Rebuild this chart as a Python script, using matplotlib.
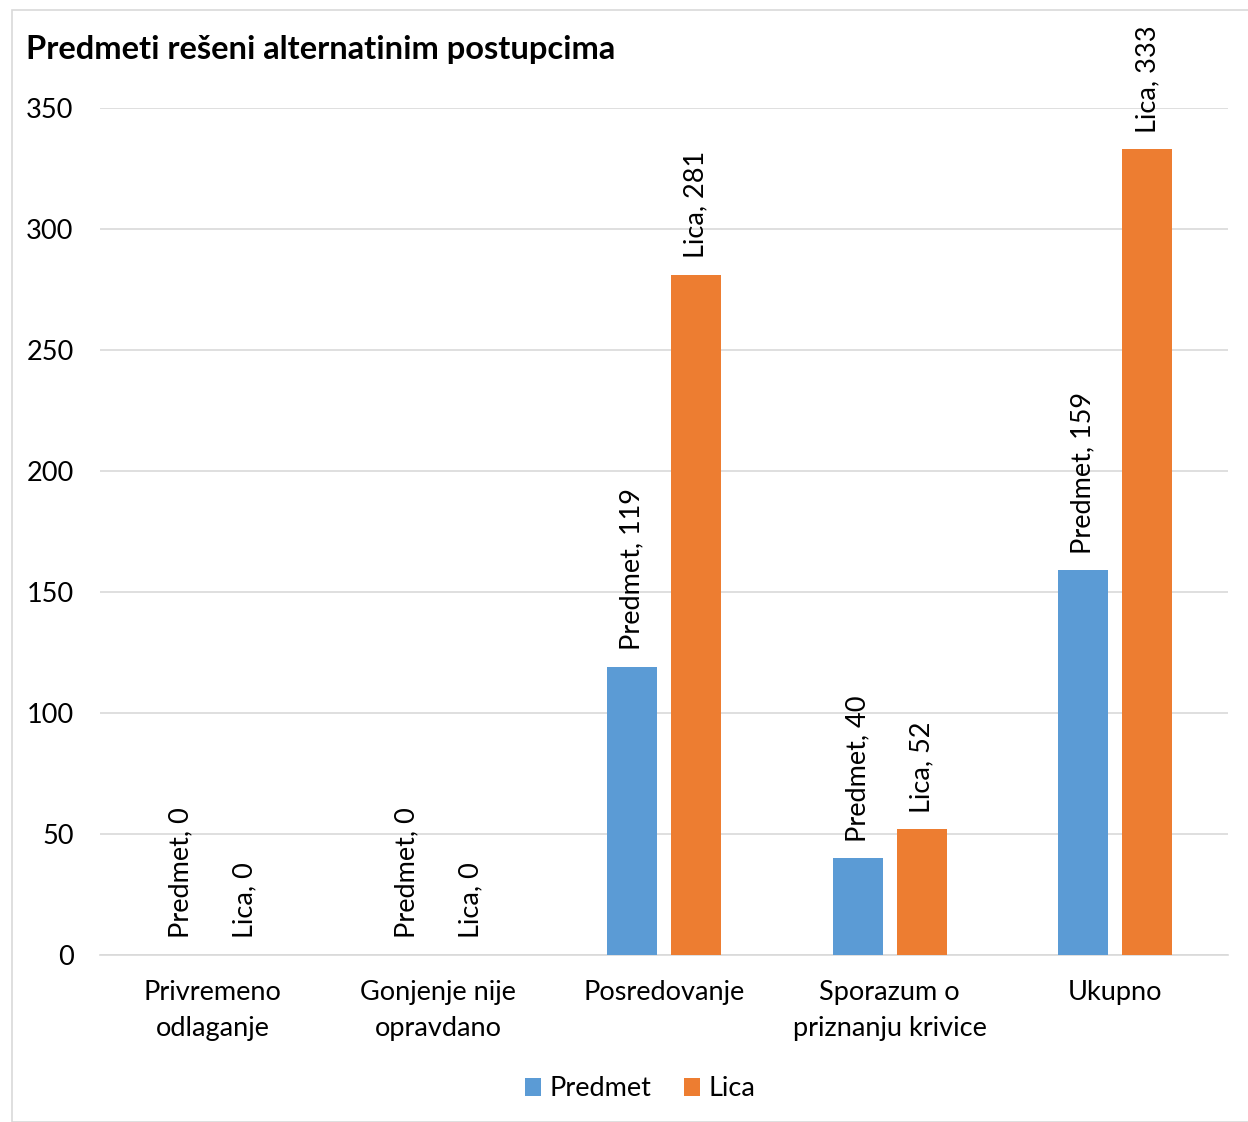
import matplotlib.pyplot as plt
import numpy as np
from matplotlib.patches import Rectangle

plt.rcParams['font.family'] = ['Lato', 'DejaVu Sans']

kategorije = ["Privremeno\nodlaganje", "Gonjenje nije\nopravdano", "Posredovanje",
              "Sporazum o\npriznanju krivice", "Ukupno"]
predmet = [0, 0, 119, 40, 159]
lica = [0, 0, 281, 52, 333]
serije = ["Predmet", "Lica"]
boje = ["#5b9bd5", "#ed7d31"]

fig = plt.figure(figsize=(12.48, 11.22), dpi=100)
ax = fig.add_axes([0.0801, 0.1488, 0.904, 0.7549])

# okvir oko grafikona
fig.patches.append(Rectangle((12/1248, 0), 1.0, 1 - 10/1122, transform=fig.transFigure,
                             fill=False, edgecolor="#d9d9d9", linewidth=1.2))

x = np.arange(len(kategorije))
w = 0.222
off = 0.142
for vals, name, c, d in [(predmet, serije[0], boje[0], -off), (lica, serije[1], boje[1], off)]:
    ax.bar(x + d, vals, width=w, color=c, label=name, zorder=3)
    for xi, v in zip(x + d, vals):
        ax.annotate(f"{name}, {v}", (xi, v), xytext=(0, 12), textcoords="offset points",
                    rotation=90, ha="center", va="bottom", fontsize=19.5)

ax.set_xlim(-0.5, len(kategorije) - 0.5)
ax.set_ylim(0, 350)
ax.set_yticks(range(0, 351, 50))
ax.set_xticks(x)
ax.set_xticklabels(kategorije, fontsize=19.5, linespacing=1.55)
ax.tick_params(axis="y", labelsize=19.5, length=0, pad=19)
ax.tick_params(axis="x", length=0, pad=18)
ax.grid(axis="y", color="#d9d9d9", linewidth=1.2, zorder=0)
for s in ["top", "right", "left"]:
    ax.spines[s].set_visible(False)
ax.spines["bottom"].set_color("#d9d9d9")
ax.spines["bottom"].set_linewidth(1.2)

fig.text(26/1248, 1 - 49/1122, "Predmeti rešeni alternatinim postupcima", fontsize=23.5,
         fontweight="bold", va="center", ha="left")

fig.legend(loc="center", bbox_to_anchor=(640/1248, 1 - 1089/1122), ncol=2, frameon=False,
           fontsize=19.5, handlelength=0.6, handleheight=0.6, columnspacing=1.2,
           handletextpad=0.3)

plt.savefig("out.png", dpi=100)
